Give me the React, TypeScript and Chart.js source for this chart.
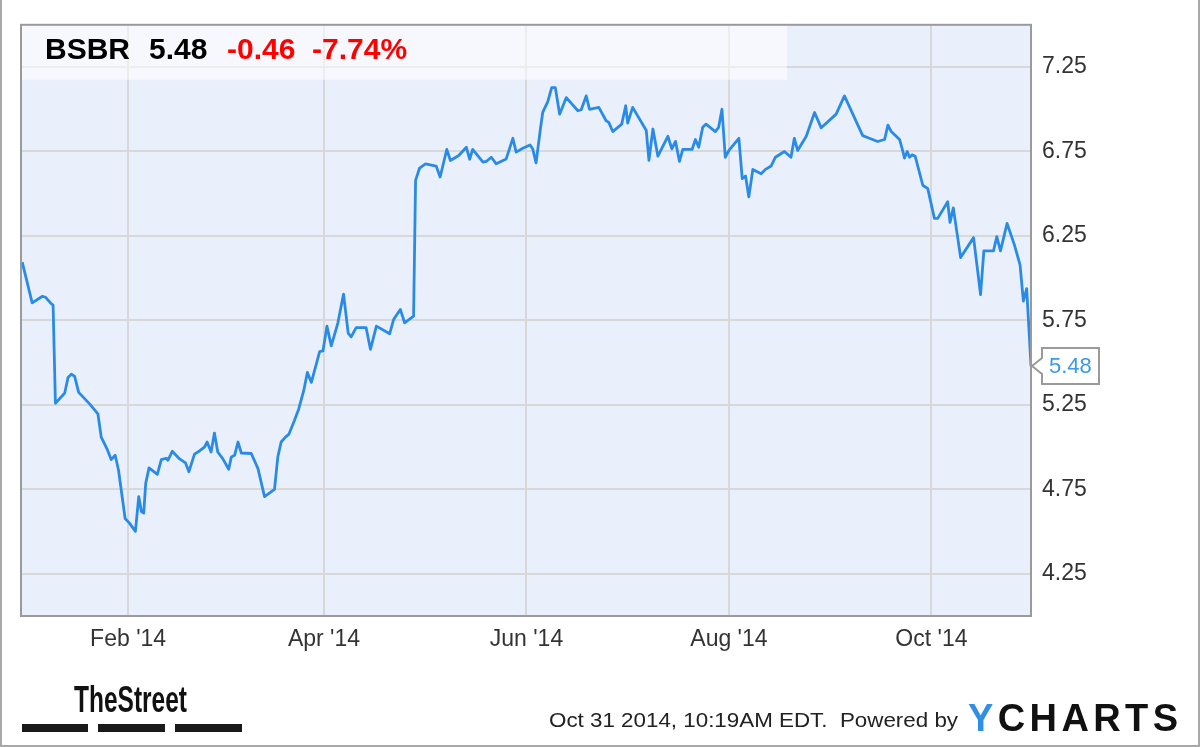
import React, { useEffect, useRef } from "react";
import { Chart, registerables } from "chart.js";

Chart.register(...registerables);

// ---- data (day index: days since Jan 1 2014) ----
const days = [
  -0.9, 2.1, 5.2, 6.1, 7.9, 8.4, 9.1, 11.9, 12.9, 13.9, 14.9, 16.1, 19.4, 21.9, 22.9, 24.6, 25.9, 27.1, 28.1,
  30.1, 31.4, 33.2, 34.2, 35.0, 35.7, 36.3, 37.3, 39.8, 41.0, 42.5, 43.0, 44.3, 46.5, 48.3, 49.3,
  51.0, 52.5, 54.0, 54.8, 56.0, 57.0, 58.0, 59.5, 61.3, 62.1, 63.1, 64.1, 65.1, 68.1, 70.1, 72.1,
  75.1, 76.1, 77.1, 78.4, 79.4, 81.1, 82.4, 83.9, 85.0, 86.2, 88.7, 89.7, 90.9, 92.2, 94.2, 95.9,
  97.3, 98.2, 99.7, 102.7, 104.0, 105.8, 109.8, 111.0, 113.0, 114.3, 117.0, 117.6, 118.8, 120.6,
  123.8, 125.0, 127.0, 128.1, 130.6, 132.9, 133.9, 134.8, 137.9, 138.9, 140.4, 141.9, 144.9,
  146.9, 147.9, 149.9, 152.1, 152.9, 153.9, 155.2, 155.9, 157.4, 158.6, 159.7, 161.0, 163.0,
  166.5, 167.5, 169.0, 170.0, 172.8, 175.0, 175.8, 177.0, 179.7, 180.9, 181.5, 183.0, 187.1,
  187.9, 189.1, 190.6, 193.6, 194.8, 195.9, 197.1, 198.1, 200.9, 201.9, 202.9, 204.1, 205.1,
  207.9, 208.9, 209.9, 210.9, 212.0, 215.0, 216.0, 217.0, 218.0, 219.2, 221.7, 223.0, 224.7,
  226.0, 228.7, 230.7, 231.7, 232.7, 235.3, 237.8, 239.8, 244.3, 246.8, 252.3, 254.3, 256.8,
  258.9, 259.9, 260.9, 263.4, 264.2, 264.9, 265.7, 266.4, 267.2, 268.1, 270.4, 271.9, 273.9,
  274.9, 277.9, 278.6, 279.6, 280.5, 281.8, 285.7, 287.8, 288.8, 291.7, 292.7, 293.8, 295.8,
  298.0, 299.7, 300.7, 301.7, 303.0,
];

const prices = [
  6.095, 5.854, 5.893, 5.887, 5.848, 5.84, 5.259, 5.32, 5.412, 5.432, 5.418, 5.324, 5.256, 5.197, 5.059, 4.991, 4.926, 4.952, 4.864,
  4.577, 4.55, 4.501, 4.707, 4.618, 4.609, 4.785, 4.877, 4.838, 4.926, 4.934, 4.922, 4.975, 4.93, 4.906, 4.854,
  4.958, 4.977, 5.0, 5.03, 4.971, 5.083, 4.971, 4.932, 4.869, 4.942, 4.952, 5.03, 4.965, 4.962, 4.874, 4.707,
  4.75, 4.942, 5.03, 5.059, 5.075, 5.157, 5.226, 5.334, 5.442, 5.383, 5.565, 5.569, 5.716, 5.599, 5.736, 5.906,
  5.675, 5.652, 5.707, 5.707, 5.579, 5.716, 5.671, 5.756, 5.815, 5.736, 5.775, 6.579, 6.652, 6.677,
  6.664, 6.599, 6.762, 6.697, 6.726, 6.775, 6.703, 6.762, 6.687, 6.691, 6.716, 6.677, 6.706,
  6.828, 6.746, 6.769, 6.789, 6.765, 6.683, 6.883, 6.981, 7.044, 7.128, 7.128, 6.971, 7.069,
  6.991, 6.997, 7.079, 7.0, 7.011, 6.932, 6.922, 6.868, 6.912, 7.021, 6.918, 7.011, 6.874,
  6.697, 6.883, 6.722, 6.84, 6.765, 6.81, 6.691, 6.762, 6.762, 6.821, 6.775, 6.893, 6.912,
  6.868, 6.893, 7.0, 6.716, 6.756, 6.828, 6.589, 6.605, 6.481, 6.644, 6.618, 6.644, 6.664,
  6.716, 6.75, 6.716, 6.828, 6.756, 6.84, 6.981, 6.89, 6.971, 7.079, 6.844, 6.828, 6.809,
  6.821, 6.906, 6.868, 6.821, 6.765, 6.711, 6.75, 6.716, 6.73, 6.722, 6.55, 6.53, 6.354,
  6.354, 6.452, 6.33, 6.416, 6.295, 6.122, 6.24, 5.903, 6.162, 6.162, 6.246, 6.162, 6.324,
  6.197, 6.079, 5.864, 5.938, 5.48,
];

const xTickDays = [31, 90, 151, 212, 273];
const xTickLabels = ["Feb '14", "Apr '14", "Jun '14", "Aug '14", "Oct '14"];
const yTicks = [4.25, 4.75, 5.25, 5.75, 6.25, 6.75, 7.25];

const symbol = "BSBR";
const lastPriceText = "5.48";
const changeText = "-0.46";
const changePctText = "-7.74%";
const footerText = "Oct 31 2014, 10:19AM EDT.  Powered by";
const brandText = "TheStreet";
const ychartsText = "YCHARTS";

const FONT = '"Liberation Sans", Arial, Helvetica, sans-serif';
const LINE_COLOR = "#2a8be6";

const decorPlugin = {
  id: "decor",
  beforeDraw(chart: any) {
    const { ctx, chartArea: a, width, height } = chart;
    ctx.save();
    ctx.fillStyle = "#ffffff";
    ctx.fillRect(0, 0, width, height);
    ctx.fillStyle = "#eaf0fb";
    ctx.fillRect(a.left, a.top, a.right - a.left, a.bottom - a.top);
    ctx.restore();
  },
  beforeDatasetsDraw(chart: any) {
    const { ctx, chartArea: a } = chart;
    ctx.save();
    ctx.fillStyle = "rgba(255,255,255,0.55)";
    ctx.fillRect(a.left, a.top, 766, 55);
    ctx.font = `bold 30px ${FONT}`;
    ctx.textBaseline = "alphabetic";
    ctx.textAlign = "left";
    ctx.fillStyle = "#000000";
    ctx.fillText(symbol, 45, 59);
    ctx.fillText(lastPriceText, 149, 59);
    ctx.fillStyle = "#ff0000";
    ctx.fillText(changeText, 227, 59);
    ctx.fillText(changePctText, 312, 59);
    ctx.restore();
  },
  afterDatasetsDraw(chart: any) {
    const { ctx, chartArea: a, width, height } = chart;
    ctx.save();
    // plot border
    ctx.strokeStyle = "#9a9a9a";
    ctx.lineWidth = 2;
    ctx.strokeRect(a.left, a.top, a.right - a.left, a.bottom - a.top);

    // last value label
    const yv = chart.scales.y.getPixelForValue(prices[prices.length - 1]);
    const bl = a.right + 11;
    const br = a.right + 68;
    ctx.beginPath();
    ctx.moveTo(bl, yv - 18);
    ctx.lineTo(br, yv - 18);
    ctx.lineTo(br, yv + 18);
    ctx.lineTo(bl, yv + 18);
    ctx.lineTo(bl, yv + 8);
    ctx.lineTo(a.right + 1, yv);
    ctx.lineTo(bl, yv - 8);
    ctx.closePath();
    ctx.fillStyle = "#ffffff";
    ctx.fill();
    ctx.strokeStyle = "#9a9a9a";
    ctx.lineWidth = 2;
    ctx.stroke();
    ctx.fillStyle = "#3a9ae8";
    ctx.font = `22px ${FONT}`;
    ctx.textBaseline = "middle";
    ctx.fillText(lastPriceText, bl + 7, yv + 1);

    // footer: TheStreet logo
    ctx.textBaseline = "alphabetic";
    ctx.fillStyle = "#111111";
    ctx.font = `bold 36px "Liberation Sans Narrow", ${FONT}`;
    const bw = ctx.measureText(brandText).width;
    ctx.save();
    ctx.translate(74, 712);
    ctx.scale(113 / bw, 1);
    ctx.fillText(brandText, 0, 0);
    ctx.restore();
    ctx.fillStyle = "#1a1a1a";
    ctx.fillRect(22, 724, 66, 8);
    ctx.fillRect(98, 724, 67, 8);
    ctx.fillRect(175, 724, 67, 8);

    // footer text
    ctx.fillStyle = "#222222";
    ctx.font = `21px ${FONT}`;
    const fw = ctx.measureText(footerText).width;
    ctx.save();
    ctx.translate(549, 727);
    ctx.scale(409 / fw, 1);
    ctx.fillText(footerText, 0, 0);
    ctx.restore();

    // YCHARTS logo
    ctx.font = `bold 38px ${FONT}`;
    const letters = ychartsText.split("");
    const widths = letters.map((c) => ctx.measureText(c).width);
    const natural = widths.reduce((s, w) => s + w, 0);
    const gap = (210 - natural) / (letters.length - 1);
    let lx = 968;
    letters.forEach((c, i) => {
      ctx.fillStyle = i === 0 ? "#2f8fe6" : "#111111";
      ctx.fillText(c, lx, 731);
      lx += widths[i] + gap;
    });

    // outer frame
    ctx.strokeStyle = "#a8a8a8";
    ctx.lineWidth = 2;
    ctx.beginPath();
    ctx.moveTo(1, 0);
    ctx.lineTo(1, height - 1);
    ctx.lineTo(width - 1, height - 1);
    ctx.lineTo(width - 1, 0);
    ctx.stroke();
    ctx.restore();
  },
};

export default function App() {
  const canvasRef = useRef<HTMLCanvasElement | null>(null);

  useEffect(() => {
    const canvas = canvasRef.current;
    if (!canvas) return;
    const data = days.map((d, i) => ({ x: d, y: prices[i] }));
    const chart = new Chart(canvas, {
      type: "line",
      data: {
        datasets: [
          {
            data,
            borderColor: LINE_COLOR,
            borderWidth: 2.8,
            pointRadius: 0,
            tension: 0,
            fill: false,
            borderJoinStyle: "round",
          },
        ],
      },
      options: {
        responsive: false,
        animation: false,
        devicePixelRatio: 1,
        layout: { padding: { left: 21, top: 22, right: 0, bottom: 0 } },
        plugins: { legend: { display: false }, tooltip: { enabled: false } },
        scales: {
          x: {
            type: "linear",
            min: -1.27,
            max: 303,
            grid: { color: "#d8d8d8", lineWidth: 2, drawTicks: false },
            border: { display: false },
            afterBuildTicks: (s: any) => {
              s.ticks = xTickDays.map((v) => ({ value: v }));
            },
            afterFit: (s: any) => {
              s.height = 131;
            },
            ticks: {
              autoSkip: false,
              maxRotation: 0,
              padding: 10,
              color: "#333333",
              font: { family: FONT, size: 23 },
              callback: (v: any) => {
                const i = xTickDays.indexOf(Number(v));
                return i >= 0 ? xTickLabels[i] : "";
              },
            },
          },
          y: {
            position: "right",
            min: 4.0,
            max: 7.5,
            grid: { color: "#d8d8d8", lineWidth: 2, drawTicks: false },
            border: { display: false },
            afterBuildTicks: (s: any) => {
              s.ticks = yTicks.map((v) => ({ value: v }));
            },
            afterFit: (s: any) => {
              s.width = 169;
            },
            ticks: {
              padding: 11,
              color: "#333333",
              font: { family: FONT, size: 23 },
              callback: (v: any) => Number(v).toFixed(2),
            },
          },
        },
      } as any,
      plugins: [decorPlugin],
    });
    return () => chart.destroy();
  }, []);

  return (
    <div style={{ position: "absolute", left: 0, top: 0, width: 1200, height: 747, background: "#fff" }}>
      <canvas ref={canvasRef} width={1200} height={747} style={{ display: "block", width: 1200, height: 747 }} />
    </div>
  );
}
